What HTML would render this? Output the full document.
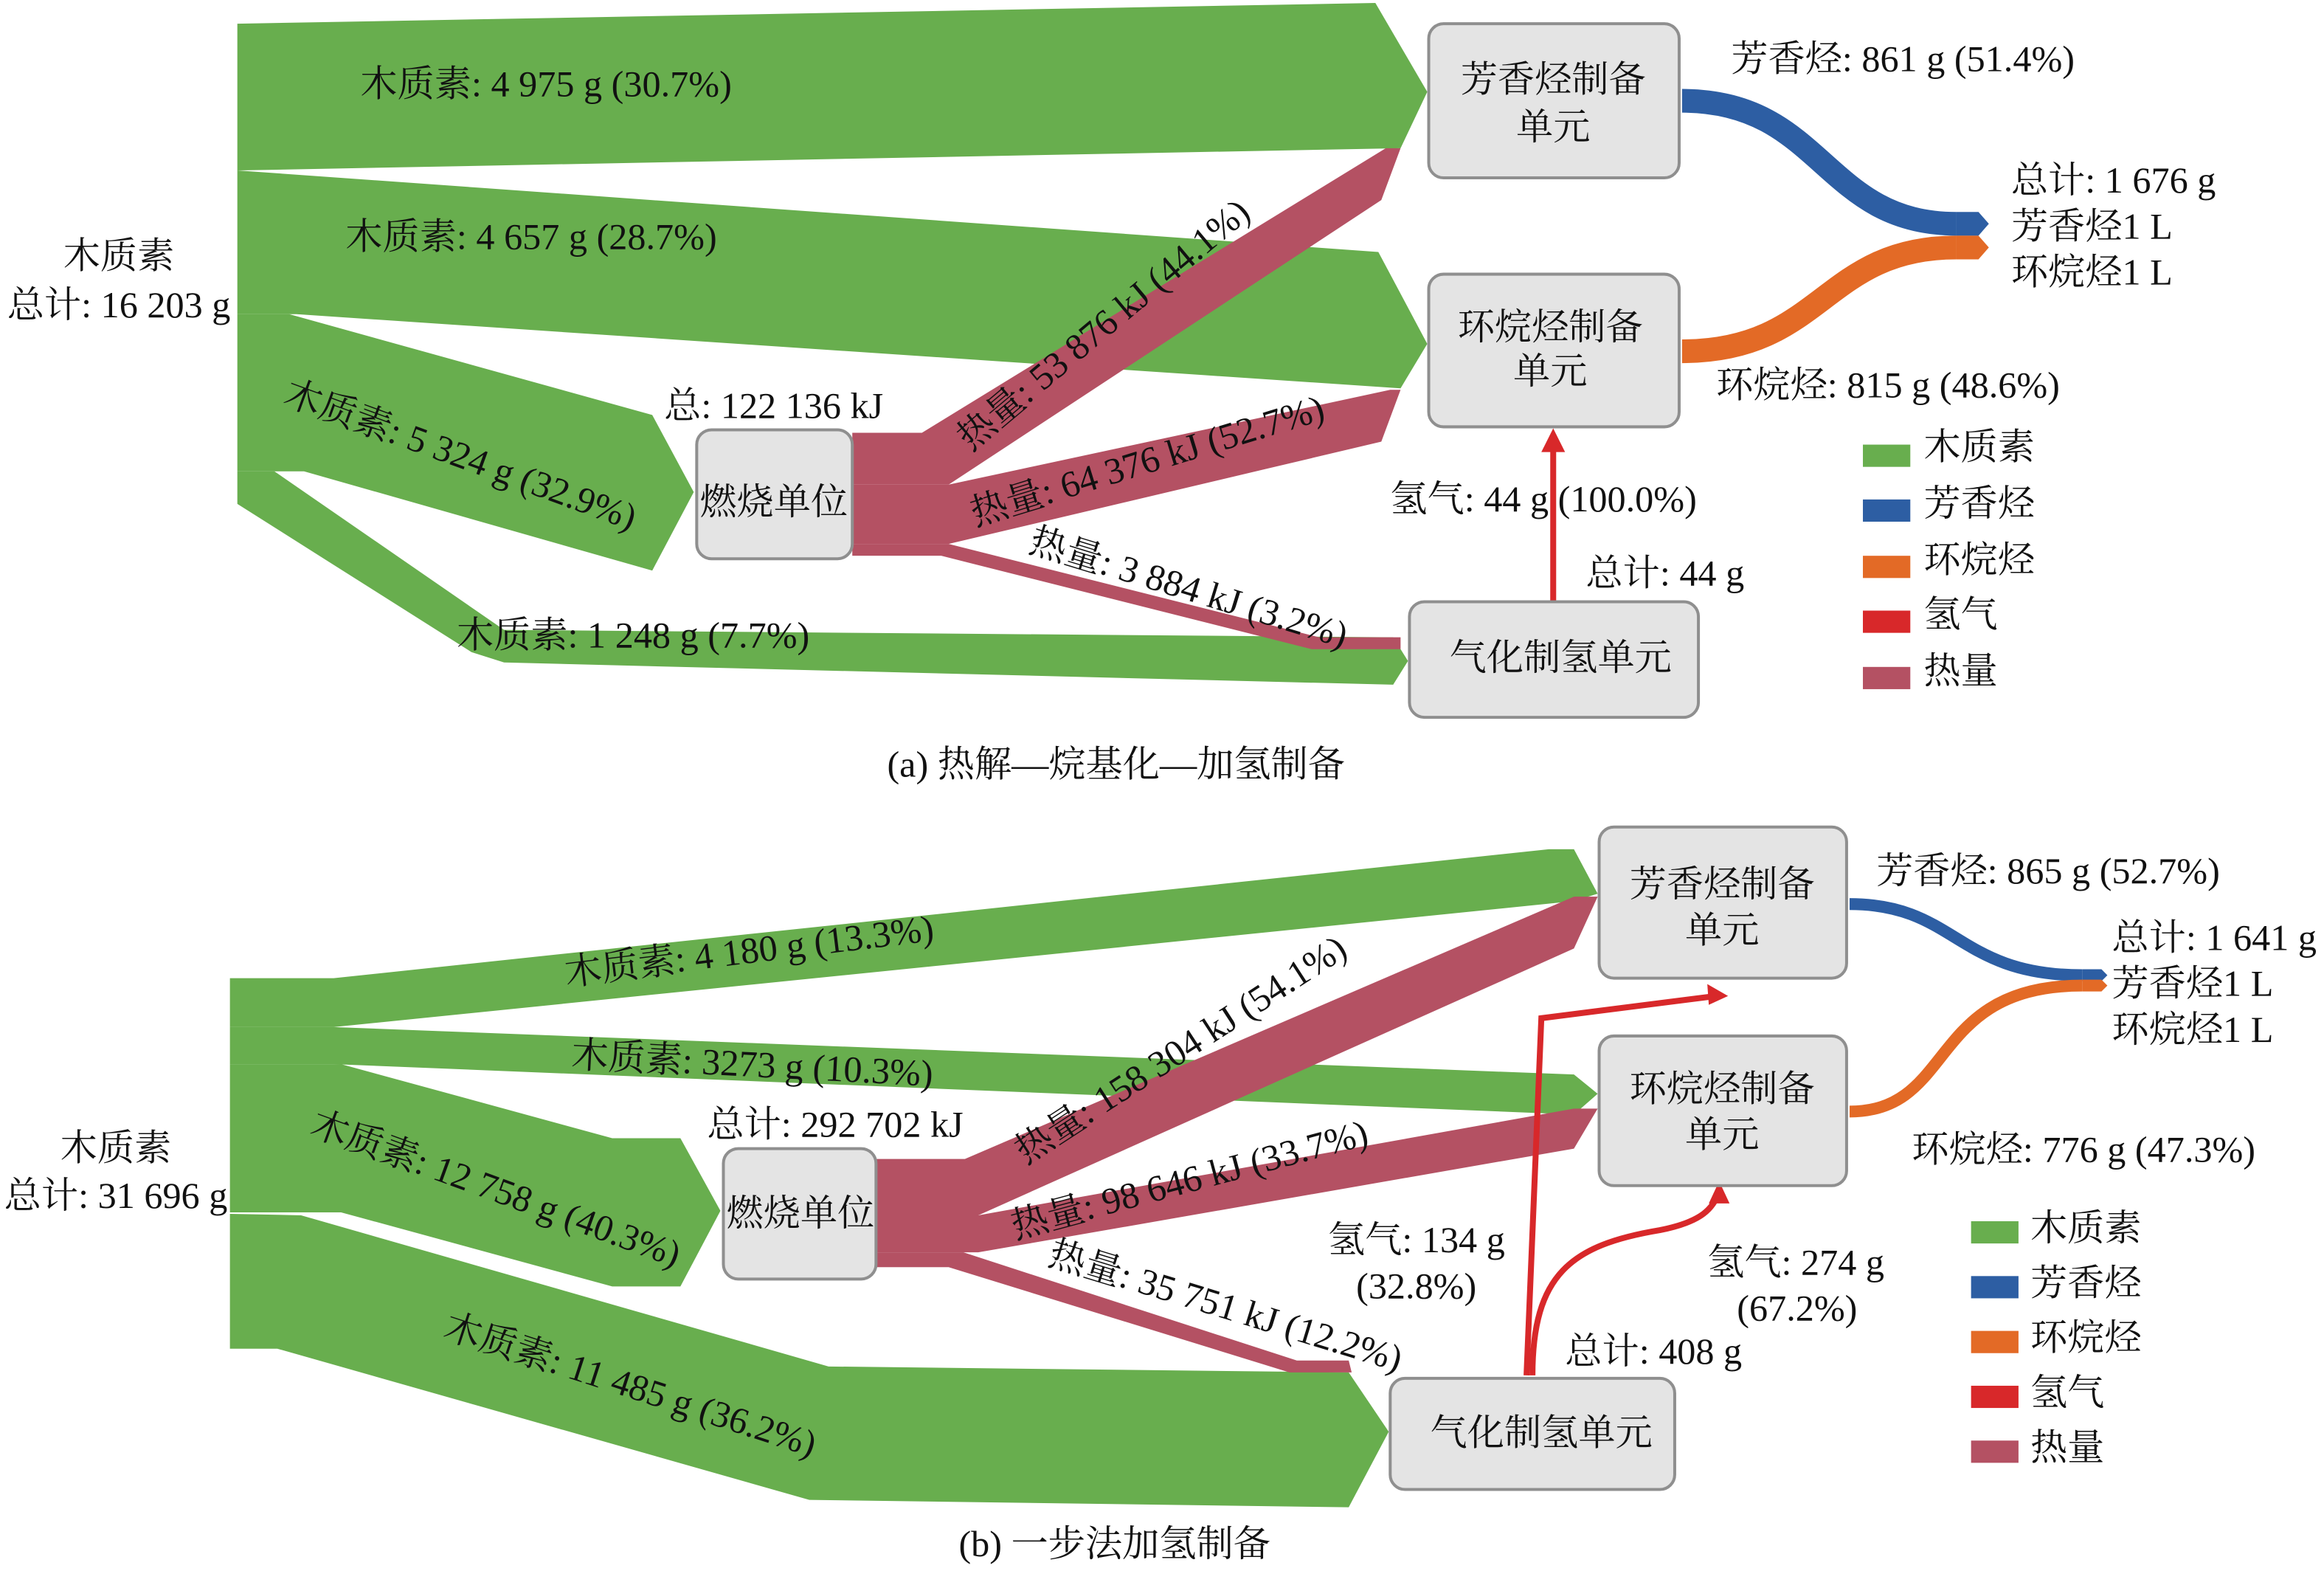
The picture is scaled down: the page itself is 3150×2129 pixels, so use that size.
<!DOCTYPE html>
<html><head><meta charset="utf-8"><style>
html,body{margin:0;padding:0;background:#fff;}
svg{display:block;}
svg text{font-family:"Liberation Serif","Noto Serif CJK SC",serif;fill:#111;}
</style></head><body>
<svg width="3150" height="2129" viewBox="0 0 1568 1060" xmlns="http://www.w3.org/2000/svg" font-family="'Liberation Serif', 'Noto Serif CJK SC', serif">
<g font-size="25">
<!-- ===== (a) ===== -->
<g fill="#68ae4e">
<polygon points="160,16 928,2 963,62 945,100 160,115"/>
<polygon points="160,115 930,170 963,232 945,262 200,212 160,212"/>
<polygon points="160,212 195,212 440,280 468,332 440,385 205,318 160,318"/>
<polygon points="160,318 185,318 340,425 940,430 950,446 940,462 340,447 318,440 160,340"/>
</g>
<g fill="#b45163">
<polygon points="575,292 622,292 935,100 945,100 932,135 640,327 575,327"/>
<polygon points="575,327 640,327 938,263 945,263 932,298 640,367 575,367"/>
<polygon points="575,367 640,367 890,430 945,430 945,438 885,438 635,375 575,375"/>
</g>
<path d="M1135,68 C1230,68 1230,151 1320,151" stroke="#2d5ea3" stroke-width="16" fill="none"/>
<polygon points="1320,143 1335,143 1342,151 1335,159 1320,159" fill="#2d5ea3"/>
<path d="M1135,237 C1230,237 1230,167 1320,167" stroke="#e36a26" stroke-width="16" fill="none"/>
<polygon points="1320,159 1335,159 1342,167 1335,175 1320,175" fill="#e36a26"/>
<line x1="1048" y1="405" x2="1048" y2="302" stroke="#d8282a" stroke-width="4"/>
<polygon points="1040,305 1048,289 1056,305" fill="#d8282a"/>
<g fill="#e4e4e4" stroke="#8f8f8f" stroke-width="2">
<rect x="964" y="16" width="169" height="104" rx="10"/>
<rect x="964" y="185" width="169" height="103" rx="10"/>
<rect x="470" y="290" width="105" height="87" rx="10"/>
<rect x="951" y="406" width="195" height="78" rx="10"/>
</g>
<text x="1048" y="62" text-anchor="middle">芳香烃制备</text>
<text x="1048" y="94" text-anchor="middle">单元</text>
<text x="1046" y="229" text-anchor="middle">环烷烃制备</text>
<text x="1046" y="259" text-anchor="middle">单元</text>
<text x="522" y="347" text-anchor="middle">燃烧单位</text>
<text x="1053" y="452" text-anchor="middle">气化制氢单元</text>
<text x="80" y="181" text-anchor="middle">木质素</text>
<text x="80" y="214" text-anchor="middle">总计: 16 203 g</text>
<text x="243" y="65">木质素: 4 975 g (30.7%)</text>
<text x="233" y="168">木质素: 4 657 g (28.7%)</text>
<text x="190" y="272" transform="rotate(20 190 272)">木质素: 5 324 g (32.9%)</text>
<text x="308" y="437">木质素: 1 248 g (7.7%)</text>
<text x="448" y="282">总: 122 136 kJ</text>
<text x="655" y="305" transform="rotate(-40 655 305)">热量: 53 876 kJ (44.1%)</text>
<text x="658" y="355" transform="rotate(-17 658 355)">热量: 64 376 kJ (52.7%)</text>
<text x="693" y="372" transform="rotate(17 693 372)">热量: 3 884 kJ (3.2%)</text>
<text x="938" y="345">氢气: 44 g (100.0%)</text>
<text x="1070" y="395">总计: 44 g</text>
<text x="1168" y="48">芳香烃: 861 g (51.4%)</text>
<text x="1158" y="268">环烷烃: 815 g (48.6%)</text>
<text x="1357" y="130">总计: 1 676 g</text>
<text x="1357" y="161">芳香烃1 L</text>
<text x="1357" y="192">环烷烃1 L</text>
<rect x="1257" y="300" width="32" height="15" fill="#68ae4e"/>
<rect x="1257" y="337" width="32" height="15" fill="#2d5ea3"/>
<rect x="1257" y="375" width="32" height="15" fill="#e36a26"/>
<rect x="1257" y="412" width="32" height="15" fill="#d8282a"/>
<rect x="1257" y="450" width="32" height="15" fill="#b45163"/>
<text x="1298" y="310">木质素</text>
<text x="1298" y="348">芳香烃</text>
<text x="1298" y="386">环烷烃</text>
<text x="1298" y="423">氢气</text>
<text x="1298" y="461">热量</text>
<text x="753" y="524" text-anchor="middle">(a) 热解—烷基化—加氢制备</text>

<!-- ===== (b) ===== -->
<g fill="#68ae4e">
<polygon points="155,660 225,660 1045,573 1062,573 1078,603 1062,608 225,693 155,693"/>
<polygon points="155,693 225,693 1062,725 1078,738 1062,752 225,718 155,718"/>
<polygon points="155,718 230,718 413,768 459,768 486,817 459,868 413,868 230,818 155,818"/>
<polygon points="155,819 203,820 559,922 910,926 937,966 910,1017 546,1012 187,910 155,910"/>
</g>
<g fill="#b45163">
<polygon points="591,782 651,782 1062,605 1078,605 1062,640 660,820 591,820"/>
<polygon points="591,820 660,820 1062,748 1078,748 1062,775 660,845 591,845"/>
<polygon points="591,845 650,845 875,918 910,918 912,926 870,926 640,855 591,855"/>
</g>
<path d="M1248,610 C1320,610 1320,658 1405,658" stroke="#2d5ea3" stroke-width="8" fill="none"/>
<polygon points="1405,654 1418,654 1422,658 1418,662 1405,662" fill="#2d5ea3"/>
<path d="M1248,750 C1320,750 1300,665 1405,665" stroke="#e36a26" stroke-width="8" fill="none"/>
<polygon points="1405,661 1418,661 1422,665 1418,669 1405,669" fill="#e36a26"/>
<path d="M1030,928 L1040,687 L1158,672" stroke="#d8282a" stroke-width="4" fill="none"/>
<polygon points="1152,664 1166,672 1153,678" fill="#d8282a"/>
<path d="M1034,928 C1034,860 1060,840 1120,830 C1150,824 1155,815 1160,805" stroke="#d8282a" stroke-width="4" fill="none"/>
<polygon points="1153,812 1160,797 1167,812" fill="#d8282a"/>
<g fill="#e4e4e4" stroke="#8f8f8f" stroke-width="2">
<rect x="1079" y="558" width="167" height="102" rx="10"/>
<rect x="1079" y="699" width="167" height="101" rx="10"/>
<rect x="488" y="775" width="103" height="88" rx="10"/>
<rect x="938" y="930" width="192" height="75" rx="10"/>
</g>
<text x="1162" y="605" text-anchor="middle">芳香烃制备</text>
<text x="1162" y="636" text-anchor="middle">单元</text>
<text x="1162" y="743" text-anchor="middle">环烷烃制备</text>
<text x="1162" y="774" text-anchor="middle">单元</text>
<text x="540" y="827" text-anchor="middle">燃烧单位</text>
<text x="1040" y="975" text-anchor="middle">气化制氢单元</text>
<text x="78" y="783" text-anchor="middle">木质素</text>
<text x="78" y="815" text-anchor="middle">总计: 31 696 g</text>
<text x="382" y="665" transform="rotate(-7 382 665)">木质素: 4 180 g (13.3%)</text>
<text x="385" y="720" transform="rotate(3 385 720)">木质素: 3273 g (10.3%)</text>
<text x="208" y="765" transform="rotate(20 208 765)">木质素: 12 758 g (40.3%)</text>
<text x="298" y="902" transform="rotate(18 298 902)">木质素: 11 485 g (36.2%)</text>
<text x="477" y="767">总计: 292 702 kJ</text>
<text x="692" y="786" transform="rotate(-33 692 786)">热量: 158 304 kJ (54.1%)</text>
<text x="685" y="836" transform="rotate(-15 685 836)">热量: 98 646 kJ (33.7%)</text>
<text x="706" y="853" transform="rotate(17 706 853)">热量: 35 751 kJ (12.2%)</text>
<text x="896" y="845">氢气: 134 g</text>
<text x="915" y="876">(32.8%)</text>
<text x="1152" y="860">氢气: 274 g</text>
<text x="1172" y="891">(67.2%)</text>
<text x="1056" y="920">总计: 408 g</text>
<text x="1266" y="596">芳香烃: 865 g (52.7%)</text>
<text x="1290" y="784">环烷烃: 776 g (47.3%)</text>
<text x="1425" y="641">总计: 1 641 g</text>
<text x="1425" y="672">芳香烃1 L</text>
<text x="1425" y="703">环烷烃1 L</text>
<rect x="1330" y="824" width="32" height="15" fill="#68ae4e"/>
<rect x="1330" y="861" width="32" height="15" fill="#2d5ea3"/>
<rect x="1330" y="898" width="32" height="15" fill="#e36a26"/>
<rect x="1330" y="935" width="32" height="15" fill="#d8282a"/>
<rect x="1330" y="972" width="32" height="15" fill="#b45163"/>
<text x="1370" y="837">木质素</text>
<text x="1370" y="874">芳香烃</text>
<text x="1370" y="911">环烷烃</text>
<text x="1370" y="948">氢气</text>
<text x="1370" y="985">热量</text>
<text x="752" y="1050" text-anchor="middle">(b) 一步法加氢制备</text>
</g>
</svg>
</body></html>
